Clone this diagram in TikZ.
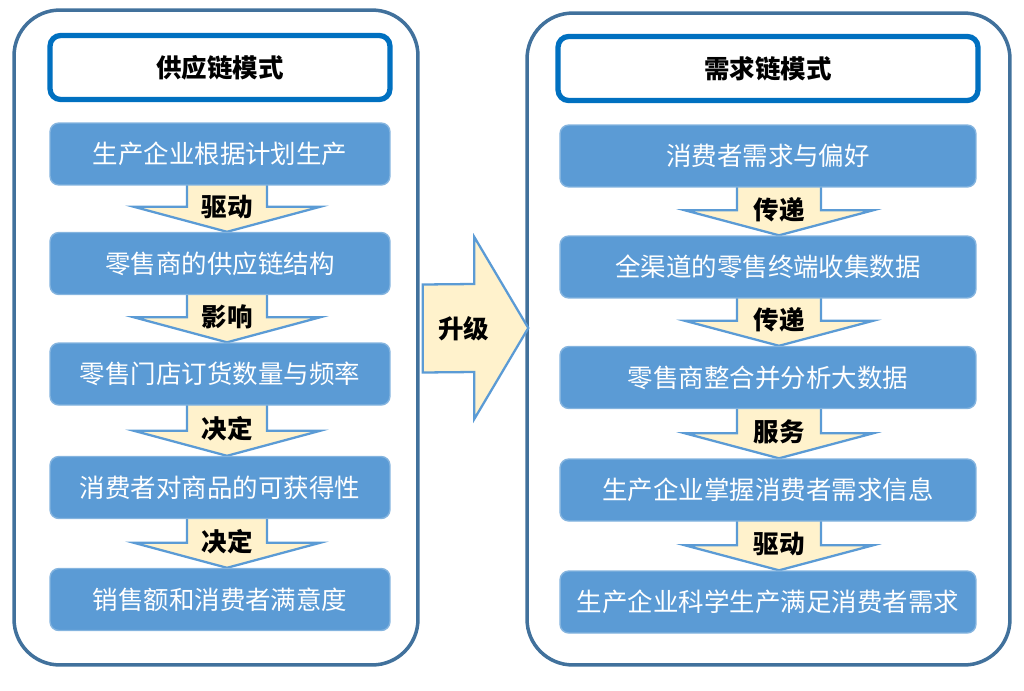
\documentclass[tikz,border=0pt]{standalone}
\usepackage{fontspec}
\setmainfont{Noto Sans CJK SC}
\usetikzlibrary{calc,backgrounds}
\definecolor{boxblue}{HTML}{5B9BD5}
\definecolor{edgeblue}{HTML}{41719C}
\definecolor{titleblue}{HTML}{0070C0}
\definecolor{arrowfill}{HTML}{FFF2CC}
\newcommand\cjkfont{\fontsize{14.5pt}{17pt}\selectfont}

\begin{document}
\begin{tikzpicture}[x=0.02cm,y=-0.02cm,
  frame/.style={draw=edgeblue,line width=2pt,rounded corners=26pt},
  titlebox/.style={draw=titleblue,line width=3pt,fill=white,rounded corners=6pt,
    minimum height=1.28cm,font=\cjkfont\bfseries},
  stepbox/.style={fill=boxblue,draw=boxblue!75!white,line width=0.8pt,rounded corners=5pt,
    minimum height=1.24cm,text=white,font=\cjkfont},
  blockarrow/.style={fill=arrowfill,draw=boxblue,line width=1.3pt,line join=miter},
  arrowlab/.style={inner sep=1pt,font=\cjkfont\bfseries}]
\useasboundingbox (0,0) rectangle (1024,690);
% 两个外框
\node[frame,minimum width=8.08cm,minimum height=13.1cm] (lframe) at (216,337.5) {};
\node[frame,minimum width=9.66cm,minimum height=13.04cm] (rframe) at (768.5,339) {};
% 标题
\node[titlebox,minimum width=6.8cm] (ltitle) at (220,67.5) {供应链模式};
\node[titlebox,minimum width=8.4cm] (rtitle) at (768,68.5) {需求链模式};
% 左侧步骤
\foreach \i/\yy/\txt in {1/154/生产企业根据计划生产,2/263.5/零售商的供应链结构,
  3/374/零售门店订货数量与频率,4/487.5/消费者对商品的可获得性,5/599.5/销售额和消费者满意度}
  \node[stepbox,minimum width=6.8cm] (L\i) at (220,\yy) {\txt};
% 右侧步骤
\foreach \i/\yy/\txt in {1/156/消费者需求与偏好,2/267/全渠道的零售终端收集数据,
  3/377.5/零售商整合并分析大数据,4/490/生产企业掌握消费者需求信息,5/602/生产企业科学生产满足消费者需求}
  \node[stepbox,minimum width=8.32cm] (R\i) at (768,\yy) {\txt};
% 块状箭头（放在背景层，被方框压住）
\begin{pgfonlayer}{background}
\foreach \S/\dx/\w/\h in {L/7/40/93,R/11/42/94}{
  \foreach \a/\b in {1/2,2/3,3/4,4/5}{
    \draw[blockarrow] ($(\S\a.south)+(\dx-\w,-2)$) -- ($(\S\a.south)+(\dx+\w,-2)$)
      -- ($(\S\b.north)+(\dx+\w,-25)$) -- ($(\S\b.north)+(\dx+\h,-25)$)
      -- ($(\S\b.north)+(\dx,0)$) -- ($(\S\b.north)+(\dx-\h,-25)$)
      -- ($(\S\b.north)+(\dx-\w,-25)$) -- cycle;
  }
}
\end{pgfonlayer}
% 升级箭头（压在外框上）
\coordinate (s) at ($(lframe.east)+(3,-9)$);
\coordinate (t) at ($(rframe.west)+(3,-11)$);
\draw[blockarrow] ($(s)+(0,-44)$) -- ($(t)+(-54,-44)$) -- ($(t)+(-54,-91)$) -- (t)
  -- ($(t)+(-54,91)$) -- ($(t)+(-54,44)$) -- ($(s)+(0,44)$) -- cycle;
% 箭头上的文字
\foreach \a/\b/\lab in {1/2/驱动,2/3/影响,3/4/决定,4/5/决定}
  \node[arrowlab] (la\a) at ($(L\a.south)!0.5!(L\b.north)+(7,-2)$) {\lab};
\foreach \a/\b/\lab in {1/2/传递,2/3/传递,3/4/服务,4/5/驱动}
  \node[arrowlab] (ra\a) at ($(R\a.south)!0.5!(R\b.north)+(11,-2)$) {\lab};
\node[arrowlab] (up) at ($(s)+(41,0)$) {升级};
\end{tikzpicture}
\end{document}
